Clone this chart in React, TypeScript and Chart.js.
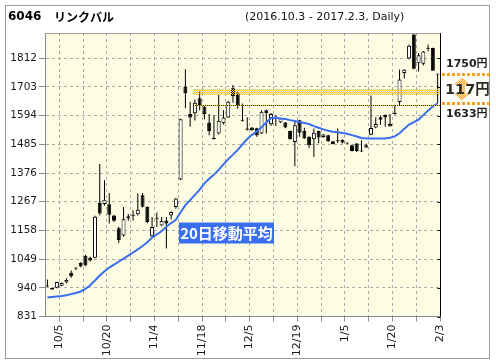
import React, { useEffect, useRef } from 'react';
import { Chart, registerables } from 'chart.js';

Chart.register(...registerables);

const titleCode = '6046';
const titleName = 'リンクバル';
const titleRange = '(2016.10.3 - 2017.2.3, Daily)';
const maLabel = '20日移動平均';
const yenUnit = '円';

const dates = [
  '10/3', '10/4', '10/5', '10/6', '10/7', '10/11', '10/12', '10/13', '10/14', '10/17',
  '10/18', '10/19', '10/20', '10/21', '10/24', '10/25', '10/26', '10/27', '10/28', '10/31',
  '11/1', '11/2', '11/4', '11/7', '11/8', '11/9', '11/10', '11/11', '11/14', '11/15',
  '11/16', '11/17', '11/18', '11/21', '11/22', '11/24', '11/25', '11/28', '11/29', '11/30',
  '12/1', '12/2', '12/5', '12/6', '12/7', '12/8', '12/9', '12/12', '12/13', '12/14',
  '12/15', '12/16', '12/19', '12/20', '12/21', '12/22', '12/26', '12/27', '12/28', '12/29',
  '12/30', '1/4', '1/5', '1/6', '1/10', '1/11', '1/12', '1/13', '1/16', '1/17',
  '1/18', '1/19', '1/20', '1/23', '1/24', '1/25', '1/26', '1/27', '1/30', '1/31',
  '2/1', '2/2', '2/3',
];

const opens = [
  946, 939, 940, 948, 960, 997, 1016, 1034, 1062, 1054,
  1054, 1262, 1258, 1257, 1215, 1166, 1139, 1203, 1216, 1219,
  1292, 1247, 1136, 1205, 1177, 1196, 1215, 1247, 1351, 1704,
  1600, 1603, 1660, 1628, 1568, 1507, 1526, 1565, 1587, 1698,
  1679, 1578, 1545, 1549, 1546, 1526, 1615, 1561, 1590, 1568,
  1568, 1536, 1494, 1577, 1536, 1514, 1504, 1536, 1513, 1520,
  1497, 1500, 1502, 1489, 1482, 1488, 1460, 1473, 1521, 1549,
  1588, 1597, 1554, 1605, 1646, 1756, 1811, 1902, 1793, 1791,
  1849, 1851, 1752,
];

const highs = [
  972, 940, 963, 960, 976, 1006, 1017, 1038, 1066, 1058,
  1214, 1410, 1349, 1300, 1217, 1172, 1247, 1220, 1235, 1298,
  1300, 1250, 1209, 1226, 1209, 1209, 1230, 1281, 1582, 1770,
  1647, 1655, 1689, 1630, 1600, 1596, 1672, 1615, 1650, 1710,
  1685, 1640, 1588, 1550, 1548, 1615, 1617, 1604, 1596, 1586,
  1570, 1538, 1571, 1578, 1548, 1516, 1545, 1537, 1524, 1521,
  1498, 1545, 1504, 1492, 1484, 1490, 1501, 1488, 1671, 1588,
  1595, 1598, 1600, 1635, 1769, 1770, 1864, 1912, 1832, 1840,
  1864, 1852, 1752,
];

const lows = [
  943, 933, 938, 946, 957, 978, 1008, 1018, 1022, 1040,
  1052, 1216, 1253, 1184, 1190, 1110, 1134, 1195, 1196, 1215,
  1245, 1185, 1134, 1171, 1175, 1089, 1200, 1240, 1349, 1622,
  1552, 1576, 1615, 1580, 1520, 1503, 1522, 1560, 1585, 1643,
  1620, 1572, 1538, 1537, 1514, 1524, 1526, 1556, 1555, 1566,
  1546, 1502, 1402, 1514, 1505, 1472, 1437, 1489, 1510, 1494,
  1485, 1490, 1488, 1486, 1458, 1456, 1456, 1471, 1520, 1546,
  1559, 1552, 1552, 1598, 1633, 1735, 1808, 1770, 1762, 1785,
  1839, 1765, 1640,
];

const closes = [
  945, 934, 962, 958, 970, 984, 1013, 1021, 1025, 1044,
  1210, 1222, 1275, 1218, 1195, 1122, 1200, 1212, 1214, 1237,
  1248, 1190, 1171, 1202, 1194, 1184, 1228, 1279, 1580, 1679,
  1587, 1643, 1634, 1600, 1536, 1505, 1575, 1587, 1647, 1668,
  1634, 1575, 1540, 1539, 1520, 1609, 1603, 1600, 1583, 1584,
  1549, 1505, 1558, 1529, 1507, 1482, 1529, 1511, 1522, 1497,
  1486, 1497, 1492, 1488, 1460, 1460, 1458, 1482, 1547, 1562,
  1578, 1587, 1562, 1600, 1731, 1768, 1860, 1772, 1823, 1838,
  1848, 1765, 1750,
];

const ma20 = [
  903, 905, 907, 909, 912, 916, 920, 926, 936, 950,
  968, 987, 1003, 1017, 1028, 1039, 1051, 1062, 1074, 1086,
  1099, 1113, 1131, 1143, 1155, 1172, 1186, 1198, 1227, 1254,
  1273, 1293, 1313, 1337, 1354, 1370, 1388, 1409, 1429, 1446,
  1464, 1485, 1505, 1521, 1534, 1550, 1568, 1585, 1586, 1583,
  1581, 1577, 1574, 1570, 1566, 1562, 1554, 1548, 1542, 1537,
  1533, 1531, 1528, 1525, 1520, 1515, 1509, 1507, 1507, 1507,
  1507, 1507, 1510, 1515, 1527, 1544, 1560, 1569, 1579, 1596,
  1614, 1629, 1641,
];

const yTicks = [831, 940, 1049, 1158, 1267, 1376, 1485, 1594, 1703, 1812];
const yMin = 831;
const yMax = 1908;
const labeledDates = ['10/5', '10/20', '11/4', '11/18', '12/5', '12/19', '1/5', '1/20', '2/3'];
const gridEvery = 5;

const bandStartDate = '11/17';
const bandLow = 1671;
const bandHigh = 1694;
const supportPrice = 1633;
const lastPrice = 1750;

const MA_BLUE = '#3a6ef0';
const FONT = '"DejaVu Sans", "Noto Sans CJK JP", sans-serif';
const CJK = '"Noto Sans CJK JP", "DejaVu Sans", sans-serif';

function makePattern(a: string, b: string | null): CanvasPattern | string {
  const c = document.createElement('canvas');
  c.width = 2;
  c.height = 2;
  const g = c.getContext('2d');
  if (!g) return a;
  g.fillStyle = a;
  g.fillRect(0, 0, 1, 1);
  g.fillRect(1, 1, 1, 1);
  if (b) {
    g.fillStyle = b;
    g.fillRect(1, 0, 1, 1);
    g.fillRect(0, 1, 1, 1);
  }
  const p = g.createPattern(c, 'repeat');
  return p || a;
}

export default function App() {
  const ref = useRef<HTMLCanvasElement>(null);

  useEffect(() => {
    const canvas = ref.current;
    if (!canvas) return;

    const bgPattern = makePattern('#ffffee', '#fafad8');
    const bandPattern = makePattern('#f2bc2a', null);
    const orangePattern = makePattern('#f7a42a', '#fde0b0');

    const firstLabeled = dates.indexOf(labeledDates[0]);
    const tickValues: number[] = [];
    for (let i = firstLabeled; i < dates.length; i += gridEvery) tickValues.push(i + 0.5);

    const decor = {
      id: 'decor',
      beforeDraw(chart: any) {
        const { ctx, chartArea: a, width, height } = chart;
        ctx.save();
        ctx.fillStyle = '#ffffff';
        ctx.fillRect(0, 0, width, height);
        ctx.strokeStyle = '#9a9a9a';
        ctx.lineWidth = 1;
        ctx.strokeRect(5.5, 5.5, 484, 353);
        ctx.fillStyle = bgPattern;
        ctx.fillRect(a.left, a.top, a.right - a.left, a.bottom - a.top);
        ctx.restore();
      },
      afterDatasetsDraw(chart: any) {
        const { ctx, chartArea: a } = chart;
        const xs = chart.scales.x;
        const ys = chart.scales.y;
        ctx.save();

        // resistance band
        const bx = Math.round(xs.getPixelForValue(dates.indexOf(bandStartDate) - 0.5));
        const bTop = Math.round(ys.getPixelForValue(bandHigh));
        const bBot = Math.round(ys.getPixelForValue(bandLow));
        ctx.fillStyle = bandPattern;
        ctx.fillRect(bx, bTop, a.right - bx, bBot - bTop);

        // support dotted line
        const sy = Math.round(ys.getPixelForValue(supportPrice)) + 0.5;
        ctx.lineWidth = 1;
        ctx.strokeStyle = '#f0c21a';
        ctx.beginPath();
        ctx.moveTo(bx, sy);
        ctx.lineTo(a.right, sy);
        ctx.stroke();
        ctx.setLineDash([1, 1]);
        ctx.strokeStyle = '#3a3000';
        ctx.beginPath();
        ctx.moveTo(bx, sy);
        ctx.lineTo(a.right, sy);
        ctx.stroke();
        ctx.setLineDash([]);

        // frame: top grey, right black with inner ticks
        ctx.strokeStyle = '#a0a0a0';
        ctx.beginPath();
        ctx.moveTo(a.left, Math.round(a.top) + 0.5);
        ctx.lineTo(a.right, Math.round(a.top) + 0.5);
        ctx.stroke();
        const rx = Math.round(a.right) + 0.5;
        ctx.strokeStyle = '#000';
        ctx.beginPath();
        ctx.moveTo(rx, a.top);
        ctx.lineTo(rx, a.bottom);
        yTicks.forEach((v) => {
          const ty = Math.round(ys.getPixelForValue(v)) + 0.5;
          ctx.moveTo(rx - 3, ty);
          ctx.lineTo(rx, ty);
        });
        ctx.stroke();

        // MA label
        const lx = a.left + 134;
        const ly = a.top + 189.5;
        ctx.fillStyle = MA_BLUE;
        ctx.fillRect(lx, ly, 95, 21);
        ctx.fillStyle = '#ffffff';
        ctx.font = 'bold 15px ' + CJK;
        ctx.textAlign = 'center';
        ctx.textBaseline = 'middle';
        ctx.fillText(maLabel, lx + 47.5, ly + 11);

        // right-side price gap annotation
        const ty = Math.round(ys.getPixelForValue(lastPrice)) - 0.5;
        const by = Math.round(ys.getPixelForValue(supportPrice)) - 1.5;
        const cx = 462;
        ctx.fillStyle = orangePattern;
        ctx.beginPath();
        ctx.moveTo(cx, ty + 3);
        ctx.lineTo(cx + 8, ty + 10);
        ctx.lineTo(cx + 3, ty + 10);
        ctx.lineTo(cx + 3, by - 10);
        ctx.lineTo(cx + 8, by - 10);
        ctx.lineTo(cx, by - 3);
        ctx.lineTo(cx - 8, by - 10);
        ctx.lineTo(cx - 3, by - 10);
        ctx.lineTo(cx - 3, ty + 10);
        ctx.lineTo(cx - 8, ty + 10);
        ctx.closePath();
        ctx.fill();

        ctx.strokeStyle = '#f7a21e';
        ctx.lineWidth = 3;
        ctx.setLineDash([3, 2]);
        ctx.beginPath();
        ctx.moveTo(a.right + 2, ty);
        ctx.lineTo(491, ty);
        ctx.moveTo(a.right + 2, by);
        ctx.lineTo(491, by);
        ctx.stroke();
        ctx.setLineDash([]);

        ctx.textAlign = 'left';
        ctx.textBaseline = 'middle';
        ctx.fillStyle = '#1e1e1e';
        ctx.font = 'bold 11px ' + FONT;
        ctx.fillText(lastPrice + yenUnit, 446, ty - 10);
        ctx.fillText(supportPrice + yenUnit, 446, by + 11);
        ctx.font = 'bold 14.5px ' + FONT;
        ctx.fillStyle = '#2b2b20';
        ctx.fillText(lastPrice - supportPrice + yenUnit, 445, (ty + by) / 2 + 1);

        ctx.restore();
      },
      afterDraw(chart: any) {
        const { ctx } = chart;
        ctx.save();
        ctx.textBaseline = 'middle';
        ctx.textAlign = 'left';
        ctx.fillStyle = '#000';
        ctx.font = 'bold 12px ' + FONT;
        ctx.fillText(titleCode, 8, 17);
        ctx.font = 'bold 12px ' + CJK;
        ctx.fillText(titleName, 54, 17);
        ctx.font = '11px ' + FONT;
        ctx.fillStyle = '#111';
        ctx.fillText(titleRange, 245, 17);
        ctx.restore();
      },
    };

    const up = dates.map((_, i) => closes[i] > opens[i]);

    const chart = new Chart(canvas, {
      type: 'bar',
      data: {
        datasets: [
          {
            type: 'line',
            label: 'ma20',
            data: ma20.map((v, i) => ({ x: i, y: v })),
            borderColor: MA_BLUE,
            borderWidth: 2,
            pointRadius: 0,
            tension: 0,
            order: 0,
          } as any,
          {
            type: 'bar',
            label: 'body',
            data: dates.map((_, i) => ({ x: i, y: [opens[i], closes[i]] })),
            backgroundColor: up.map((u) => (u ? '#ffffff' : '#000000')),
            borderColor: '#000000',
            borderWidth: 1,
            borderSkipped: false,
            barThickness: 4,
            minBarLength: 1,
            grouped: false,
            inflateAmount: 0,
            order: 1,
          } as any,
          {
            type: 'bar',
            label: 'wick',
            data: dates.map((_, i) => ({ x: i, y: [lows[i], highs[i]] })),
            backgroundColor: '#000000',
            borderWidth: 0,
            barThickness: 1,
            minBarLength: 1,
            grouped: false,
            inflateAmount: 0,
            order: 2,
          } as any,
        ],
      },
      options: {
        animation: false,
        responsive: false,
        devicePixelRatio: 1,
        events: [],
        layout: { padding: { left: 0, right: 56, top: 33, bottom: 0 } },
        plugins: { legend: { display: false }, tooltip: { enabled: false }, title: { display: false } },
        scales: {
          x: {
            type: 'linear',
            min: -0.5,
            max: dates.length - 0.5,
            offset: false,
            afterBuildTicks: (s: any) => {
              s.ticks = tickValues.map((v) => ({ value: v }));
            },
            afterFit: (s: any) => {
              s.height = 47.5;
            },
            grid: {
              offset: false,
              color: '#acacac',
              tickColor: '#8a8a8a',
              tickLength: 5,
              drawTicks: true,
            },
            border: { color: '#8a8a8a', dash: [3, 3] },
            ticks: {
              autoSkip: false,
              maxRotation: 90,
              minRotation: 90,
              padding: 3,
              color: '#1a1a1a',
              font: { family: FONT, size: 11 },
              callback: (v: any) => {
                const d = dates[Math.round(Number(v) - 0.5)];
                return labeledDates.includes(d) ? d : '';
              },
            },
          },
          y: {
            type: 'linear',
            min: yMin,
            max: yMax,
            afterBuildTicks: (s: any) => {
              s.ticks = yTicks.map((v) => ({ value: v }));
            },
            afterFit: (s: any) => {
              s.width = 45;
            },
            grid: {
              color: '#acacac',
              tickColor: '#8a8a8a',
              tickLength: 6,
              drawTicks: true,
            },
            border: { color: '#8a8a8a', dash: [3, 3] },
            ticks: {
              padding: 2,
              color: '#1a1a1a',
              font: { family: FONT, size: 10.5 },
              callback: (v: any) => String(v),
            },
          },
        },
      },
      plugins: [decor],
    } as any);

    return () => chart.destroy();
  }, []);

  return (
    <div style={{ position: 'absolute', left: 0, top: 0, width: 496, height: 364, background: '#fff' }}>
      <canvas ref={ref} width={496} height={364} style={{ display: 'block', width: 496, height: 364 }} />
    </div>
  );
}
